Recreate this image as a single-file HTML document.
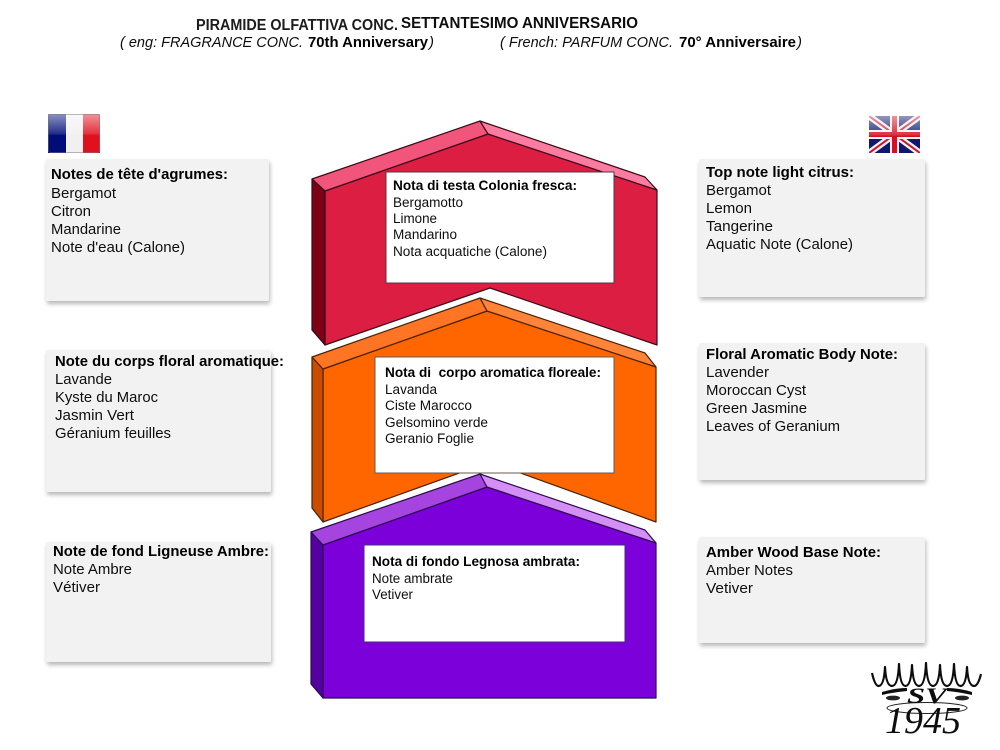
<!DOCTYPE html>
<html><head><meta charset="utf-8"><style>
html,body{margin:0;padding:0;background:#fff;width:1000px;height:750px;overflow:hidden}
svg{display:block}
text{font-family:"Liberation Sans",Arial,sans-serif;fill:#111}
.s text{font-size:15px}
.c text{font-size:13.5px}
.b{font-weight:bold;fill:#000}
</style></head><body>
<svg width="1000" height="750" viewBox="0 0 1000 750" xmlns="http://www.w3.org/2000/svg">
<defs>
<filter id="sh" x="-10%" y="-10%" width="120%" height="125%"><feDropShadow dx="1" dy="3" stdDeviation="2.2" flood-color="#000" flood-opacity=".28"/></filter>
<filter id="soft" x="-5%" y="-5%" width="110%" height="110%"><feGaussianBlur stdDeviation="0.35"/></filter>
<filter id="soft2" x="-5%" y="-5%" width="110%" height="110%"><feGaussianBlur stdDeviation="0.3"/></filter>
<linearGradient id="gl" x1="0" y1="0" x2="0" y2="1"><stop offset="0" stop-color="#fff" stop-opacity=".55"/><stop offset=".5" stop-color="#fff" stop-opacity=".15"/><stop offset=".55" stop-color="#fff" stop-opacity="0"/><stop offset="1" stop-color="#fff" stop-opacity="0"/></linearGradient>
</defs>

<!-- panels -->
<g fill="#f2f2f2" filter="url(#sh)">
<rect x="46" y="159" width="223" height="142" rx="2"/>
<rect x="46" y="350" width="225" height="142" rx="2"/>
<rect x="46" y="542" width="225" height="120" rx="2"/>
<rect x="699" y="159" width="226" height="138" rx="2"/>
<rect x="699" y="343" width="226" height="137" rx="2"/>
<rect x="699" y="537" width="226" height="106" rx="2"/>
</g>

<!-- flags -->
<g>
<rect x="48" y="114" width="18" height="39" fill="#000c78"/>
<rect x="66" y="114" width="17" height="39" fill="#f0f0f0"/>
<rect x="83" y="114" width="17" height="39" fill="#e0101e"/>
<rect x="48" y="114" width="52" height="39" fill="url(#gl)"/>
<rect x="48.5" y="114.5" width="51" height="38" rx="2" fill="none" stroke="#777" stroke-opacity=".5"/>
</g>
<svg x="869" y="116" width="51" height="37" viewBox="0 0 51 37">
<rect width="51" height="37" fill="#10186e"/>
<path d="M0 0L51 37M51 0L0 37" stroke="#f2f2f2" stroke-width="6.5"/>
<path d="M0 0L51 37M51 0L0 37" stroke="#d3142a" stroke-width="2"/>
<path d="M25.5 0V37M0 18.5H51" stroke="#f4f4f4" stroke-width="9"/>
<path d="M25.5 0V37M0 18.5H51" stroke="#d80f24" stroke-width="5"/>
<rect width="51" height="37" fill="url(#gl)"/>
</svg>

<!-- red -->
<g stroke="#3a0a18" stroke-width="1.2" stroke-linejoin="round">
<path d="M325 191L488 134L657 190V345L490 288L325 345Z" fill="#dc1e42"/>
<path d="M312 179L325 191V345L312 330Z" fill="#7c0016"/>
<path d="M312 179L480 121L488 134L325 191Z" fill="#f2557c"/>
<path d="M480 121L645 177L657 190L488 134Z" fill="#fb7ca0"/>
</g>
<!-- orange -->
<g stroke="#4a2205" stroke-width="1.2" stroke-linejoin="round">
<path d="M323 369L487 311L656 367V522L490 462L323 522Z" fill="#ff6600"/>
<path d="M312 357L323 369V522L312 508Z" fill="#c94c00"/>
<path d="M312 357L480 298L487 311L323 369Z" fill="#ff7524"/>
<path d="M480 298L645 353L656 367L487 311Z" fill="#ff8438"/>
</g>
<rect x="375" y="357" width="239" height="116" fill="#fff" stroke="#6b5a50" stroke-width="1"/>
<!-- purple -->
<g stroke="#2b0a50" stroke-width="1.2" stroke-linejoin="round">
<path d="M323 545L487 487L656 543V698H323Z" fill="#7b00d9"/>
<path d="M311 532L323 545V698L311 684Z" fill="#5500a0"/>
<path d="M311 532L480 474L487 487L323 545Z" fill="#a544df"/>
<path d="M480 474L645 530L656 543L487 487Z" fill="#d48ff6"/>
</g>
<rect x="386" y="172" width="228" height="111" fill="#fff" stroke="#5a3040" stroke-width="1"/>
<rect x="364" y="545" width="261" height="97" fill="#fff" stroke="#4a2a80" stroke-width="1"/>

<g filter="url(#soft2)">
<!-- title -->
<text x="196" y="30" font-size="15.5" textLength="202" lengthAdjust="spacingAndGlyphs" style="font-weight:bold;fill:#1a1a1a">PIRAMIDE OLFATTIVA CONC.</text>
<text x="401" y="28" font-size="15.5" textLength="237" lengthAdjust="spacingAndGlyphs" style="font-weight:bold;fill:#111">SETTANTESIMO ANNIVERSARIO</text>
<text x="120" y="47" font-size="15" font-style="italic" textLength="183" lengthAdjust="spacingAndGlyphs">( eng: FRAGRANCE CONC.</text>
<text x="308" y="47" font-size="15" class="b" textLength="120" lengthAdjust="spacingAndGlyphs">70th Anniversary</text>
<text x="429" y="47" font-size="15" font-style="italic">)</text>
<text x="500" y="47" font-size="15" font-style="italic" textLength="173" lengthAdjust="spacingAndGlyphs">( French: PARFUM CONC.</text>
<text x="679" y="47" font-size="15" class="b" textLength="117" lengthAdjust="spacingAndGlyphs">70° Anniversaire</text>
<text x="797" y="47" font-size="15" font-style="italic">)</text>

<!-- left -->
<g class="s">
<text x="51" y="179" class="b" textLength="177" lengthAdjust="spacingAndGlyphs">Notes de tête d'agrumes:</text>
<text x="51" y="198" textLength="65" lengthAdjust="spacingAndGlyphs">Bergamot</text>
<text x="51" y="216" textLength="40" lengthAdjust="spacingAndGlyphs">Citron</text>
<text x="51" y="234" textLength="70" lengthAdjust="spacingAndGlyphs">Mandarine</text>
<text x="51" y="252" textLength="134" lengthAdjust="spacingAndGlyphs">Note d'eau (Calone)</text>

<text x="55" y="366" class="b" textLength="229" lengthAdjust="spacingAndGlyphs">Note du corps floral aromatique:</text>
<text x="55" y="384" textLength="57" lengthAdjust="spacingAndGlyphs">Lavande</text>
<text x="55" y="402" textLength="103" lengthAdjust="spacingAndGlyphs">Kyste du Maroc</text>
<text x="55" y="420" textLength="79" lengthAdjust="spacingAndGlyphs">Jasmin Vert</text>
<text x="55" y="438" textLength="116" lengthAdjust="spacingAndGlyphs">Géranium feuilles</text>

<text x="53" y="556" class="b" textLength="216" lengthAdjust="spacingAndGlyphs">Note de fond Ligneuse Ambre:</text>
<text x="53" y="574" textLength="79" lengthAdjust="spacingAndGlyphs">Note Ambre</text>
<text x="53" y="592" textLength="47" lengthAdjust="spacingAndGlyphs">Vétiver</text>

<!-- right -->
<text x="706" y="177" class="b" textLength="148" lengthAdjust="spacingAndGlyphs">Top note light citrus:</text>
<text x="706" y="195" textLength="65" lengthAdjust="spacingAndGlyphs">Bergamot</text>
<text x="706" y="213" textLength="46" lengthAdjust="spacingAndGlyphs">Lemon</text>
<text x="706" y="231" textLength="67" lengthAdjust="spacingAndGlyphs">Tangerine</text>
<text x="706" y="249" textLength="147" lengthAdjust="spacingAndGlyphs">Aquatic Note (Calone)</text>

<text x="706" y="359" class="b" textLength="192" lengthAdjust="spacingAndGlyphs">Floral Aromatic Body Note:</text>
<text x="706" y="377" textLength="63" lengthAdjust="spacingAndGlyphs">Lavender</text>
<text x="706" y="395" textLength="100" lengthAdjust="spacingAndGlyphs">Moroccan Cyst</text>
<text x="706" y="413" textLength="101" lengthAdjust="spacingAndGlyphs">Green Jasmine</text>
<text x="706" y="431" textLength="134" lengthAdjust="spacingAndGlyphs">Leaves of Geranium</text>

<text x="706" y="557" class="b" textLength="175" lengthAdjust="spacingAndGlyphs">Amber Wood Base Note:</text>
<text x="706" y="575" textLength="87" lengthAdjust="spacingAndGlyphs">Amber Notes</text>
<text x="706" y="593" textLength="47" lengthAdjust="spacingAndGlyphs">Vetiver</text>
</g>

<!-- center -->
<g class="c">
<text x="393" y="190" class="b" textLength="184" lengthAdjust="spacingAndGlyphs">Nota di testa Colonia fresca:</text>
<text x="393" y="207" textLength="70" lengthAdjust="spacingAndGlyphs">Bergamotto</text>
<text x="393" y="223" textLength="44" lengthAdjust="spacingAndGlyphs">Limone</text>
<text x="393" y="239" textLength="64" lengthAdjust="spacingAndGlyphs">Mandarino</text>
<text x="393" y="256" textLength="154" lengthAdjust="spacingAndGlyphs">Nota acquatiche (Calone)</text>

<text x="385" y="377" class="b" textLength="216" lengthAdjust="spacingAndGlyphs" xml:space="preserve">Nota di  corpo aromatica floreale:</text>
<text x="385" y="394" textLength="52" lengthAdjust="spacingAndGlyphs">Lavanda</text>
<text x="385" y="410" textLength="87" lengthAdjust="spacingAndGlyphs">Ciste Marocco</text>
<text x="385" y="427" textLength="103" lengthAdjust="spacingAndGlyphs">Gelsomino verde</text>
<text x="385" y="443" textLength="89" lengthAdjust="spacingAndGlyphs">Geranio Foglie</text>

<text x="372" y="566" class="b" textLength="208" lengthAdjust="spacingAndGlyphs">Nota di fondo Legnosa ambrata:</text>
<text x="372" y="583" textLength="81" lengthAdjust="spacingAndGlyphs">Note ambrate</text>
<text x="372" y="599" textLength="41" lengthAdjust="spacingAndGlyphs">Vetiver</text>
</g>
</g>

<!-- logo -->
<g filter="url(#soft)">
<path d="M872 673Q875 686 878.5 686Q884 686 885 667Q886 686 892 686Q898 686 899 664Q900 686 905.5 686Q911 686 912 665Q913 686 919 686Q925 686 926 663Q927 686 933 686Q939 686 940 665Q941 686 947 686Q953 686 954 664Q955 686 960.5 686Q966 686 967 667Q968 686 974 686Q978 686 981 674" fill="none" stroke="#111" stroke-width="2.2" stroke-linejoin="round"/>
<path d="M882 692Q895 688 907 688L907 691Q895 692 882 695ZM972 692Q959 688 947 688L947 691Q959 692 972 695Z" fill="#111"/>
<ellipse cx="893" cy="698" rx="7" ry="2.4" fill="#222"/>
<ellipse cx="962" cy="698" rx="7" ry="2.4" fill="#222"/>
<ellipse cx="927" cy="708" rx="40" ry="5.5" fill="none" stroke="#222" stroke-width="1"/>
<text x="907" y="703" font-size="22" style="font-family:'Liberation Serif',serif;font-weight:bold;font-style:italic;fill:#111" textLength="40" lengthAdjust="spacingAndGlyphs">SV</text>
<text x="885" y="733" font-size="38" style="font-family:'Liberation Serif',serif;font-style:italic;fill:#111" textLength="76" lengthAdjust="spacingAndGlyphs">1945</text>
</g>
</svg>
</body></html>
